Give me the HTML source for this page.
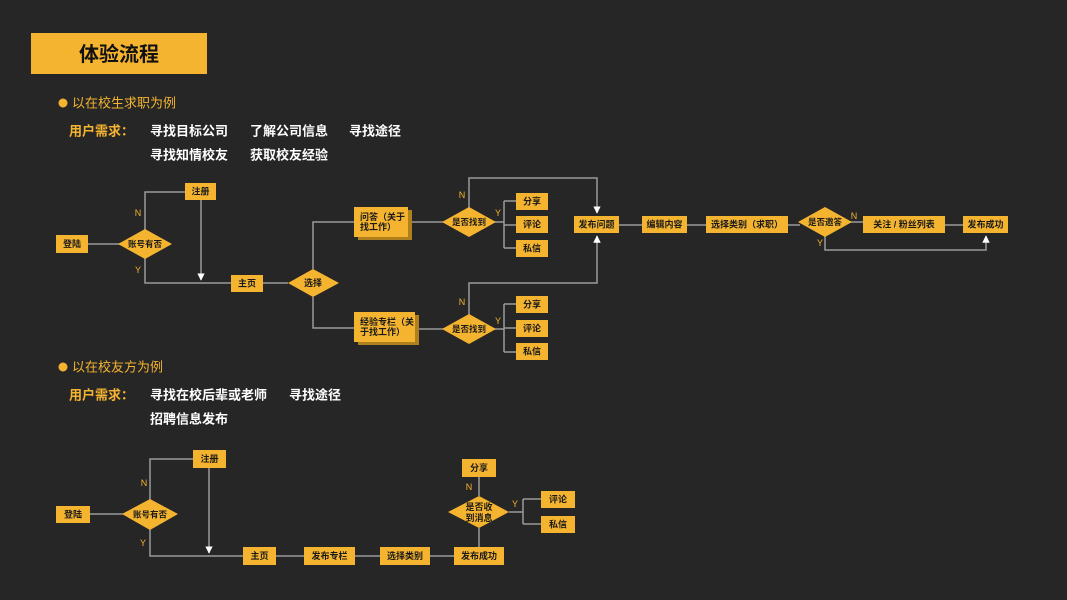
<!DOCTYPE html>
<html><head><meta charset="utf-8"><style>
html,body{margin:0;padding:0;background:#262626;width:1067px;height:600px;overflow:hidden}
svg{display:block}
text{font-family:"Liberation Sans","Noto Sans CJK SC",sans-serif}
.b{fill:#f5b430}
.t{font-size:9px;fill:#1a1a1a;font-weight:bold;text-anchor:middle;dominant-baseline:central}
.d{font-size:8.5px}
.l{stroke:#9a9a9a;stroke-width:1.5;fill:none}
.yn{font-size:9px;fill:#f5b430;text-anchor:middle;dominant-baseline:central}
.w{font-size:13px;fill:#ffffff;font-weight:bold;dominant-baseline:central}
.y{font-size:13px;fill:#f5b430;font-weight:bold;dominant-baseline:central}
</style></head><body>
<svg width="1067" height="600" viewBox="0 0 1067 600" xmlns="http://www.w3.org/2000/svg">
<defs><marker id="a" viewBox="0 0 10 10" refX="9" refY="5" markerWidth="5" markerHeight="7" orient="auto"><path d="M0,0L10,5L0,10z" fill="#fff"/></marker></defs>
<rect x="31" y="33" width="176" height="41" class="b"/>
<text x="119" y="55" style="font-size:20px;font-weight:bold;fill:#111;text-anchor:middle;dominant-baseline:central">体验流程</text>
<circle cx="63" cy="103" r="4.5" class="b"/>
<text x="72" y="103" style="font-size:13px;fill:#f5b430;dominant-baseline:central">以在校生求职为例</text>
<text x="69" y="131" class="y">用户需求：</text>
<text x="150" y="131" class="w">寻找目标公司</text><text x="250" y="131" class="w">了解公司信息</text><text x="349" y="131" class="w">寻找途径</text>
<text x="150" y="155" class="w">寻找知情校友</text><text x="250" y="155" class="w">获取校友经验</text>
<circle cx="63" cy="367" r="4.5" class="b"/>
<text x="72" y="367" style="font-size:13px;fill:#f5b430;dominant-baseline:central">以在校友方为例</text>
<text x="69" y="395" class="y">用户需求：</text>
<text x="150" y="395" class="w">寻找在校后辈或老师</text><text x="289" y="395" class="w">寻找途径</text>
<text x="150" y="419" class="w">招聘信息发布</text>

<path class="l" d="M88,244H120M145,230V192H185M145,258V283H231M263,283H288M313,269V222H355M313,297V328H355M408,222H444M415,329H444"/>
<path class="l" d="M201,200V280" marker-end="url(#a)"/>
<path class="l" d="M469,208V178H597V213" marker-end="url(#a)"/>
<path class="l" d="M469,315V283H597V236" marker-end="url(#a)"/>
<path class="l" d="M494,222H504M504,201V248M504,201H516M504,225H516M504,248H516"/>
<path class="l" d="M494,329H504M504,304V352M504,304H516M504,328H516M504,352H516"/>
<path class="l" d="M619,225H642M687,225H706M788,225H800M850,222H863M945,225H963"/>
<path class="l" d="M825,236V250H986V236" marker-end="url(#a)"/>
<rect x="56" y="235" width="32" height="18" class="b"/><text x="72" y="244" class="t">登陆</text>
<polygon points="118,244 145,229 172,244 145,259" class="b"/><text x="145" y="244" class="t d">账号有否</text>
<rect x="185" y="183" width="31" height="17" class="b"/><text x="200.5" y="191.5" class="t">注册</text>
<rect x="231" y="275" width="32" height="17" class="b"/><text x="247" y="283.5" class="t">主页</text>
<polygon points="288,283 313,269 339,283 313,297" class="b"/><text x="313" y="283" class="t">选择</text>
<rect x="358" y="210" width="54" height="30" fill="#b07f1e"/>
<rect x="354" y="207" width="54" height="30" class="b"/><text x="360" y="217" class="t" style="text-anchor:start">问答（关于</text><text x="360" y="227" class="t" style="text-anchor:start">找工作）</text>
<rect x="358" y="315" width="61" height="30" fill="#b07f1e"/>
<rect x="354" y="312" width="61" height="30" class="b"/><text x="360" y="322" class="t" style="text-anchor:start">经验专栏（关</text><text x="360" y="332" class="t" style="text-anchor:start">于找工作）</text>
<polygon points="442,222 469,207 496,222 469,237" class="b"/><text x="469" y="222" class="t d">是否找到</text>
<polygon points="442,329 469,314 496,329 469,344" class="b"/><text x="469" y="329" class="t d">是否找到</text>
<text x="462" y="195" class="yn">N</text><text x="498" y="213" class="yn">Y</text>
<text x="462" y="302" class="yn">N</text><text x="498" y="321" class="yn">Y</text>
<text x="138" y="213" class="yn">N</text><text x="138" y="270" class="yn">Y</text>
<rect x="516" y="193" width="32" height="17" class="b"/><text x="532" y="201.5" class="t">分享</text>
<rect x="516" y="216" width="32" height="17" class="b"/><text x="532" y="224.5" class="t">评论</text>
<rect x="516" y="240" width="32" height="17" class="b"/><text x="532" y="248.5" class="t">私信</text>
<rect x="516" y="296" width="32" height="17" class="b"/><text x="532" y="304.5" class="t">分享</text>
<rect x="516" y="320" width="32" height="17" class="b"/><text x="532" y="328.5" class="t">评论</text>
<rect x="516" y="343" width="32" height="17" class="b"/><text x="532" y="351.5" class="t">私信</text>
<rect x="574" y="216" width="45" height="17" class="b"/><text x="596.5" y="224.5" class="t">发布问题</text>
<rect x="642" y="216" width="45" height="17" class="b"/><text x="664.5" y="224.5" class="t">编辑内容</text>
<rect x="706" y="216" width="82" height="17" class="b"/><text x="747" y="224.5" class="t">选择类别（求职）</text>
<polygon points="798,222 825,207 852,222 825,237" class="b"/><text x="825" y="222" class="t d">是否邀答</text>
<text x="854" y="216" class="yn">N</text><text x="820" y="243" class="yn">Y</text>
<rect x="863" y="216" width="82" height="17" class="b"/><text x="904" y="224.5" class="t">关注 / 粉丝列表</text>
<rect x="963" y="216" width="45" height="17" class="b"/><text x="985.5" y="224.5" class="t">发布成功</text>

<path class="l" d="M90,514H123M150,500V459H193M150,529V556H243M276,556H304M355,556H380M430,556H454M479,547V528M479,496V477M509,512H523M523,499V524M523,499H541M523,524H541"/>
<path class="l" d="M209,468V553" marker-end="url(#a)"/>
<rect x="56" y="506" width="34" height="17" class="b"/><text x="73" y="514.5" class="t">登陆</text>
<polygon points="122,514 150,499 178,514 150,530" class="b"/><text x="150" y="514.5" class="t d">账号有否</text>
<rect x="193" y="450" width="33" height="18" class="b"/><text x="209.5" y="459" class="t">注册</text>
<text x="144" y="483" class="yn">N</text><text x="143" y="543" class="yn">Y</text>
<rect x="243" y="547" width="33" height="18" class="b"/><text x="259.5" y="556" class="t">主页</text>
<rect x="304" y="547" width="51" height="18" class="b"/><text x="329.5" y="556" class="t">发布专栏</text>
<rect x="380" y="547" width="50" height="18" class="b"/><text x="405" y="556" class="t">选择类别</text>
<rect x="454" y="547" width="50" height="18" class="b"/><text x="479" y="556" class="t">发布成功</text>
<polygon points="448,512 479,496 509,512 479,528" class="b"/><text x="479" y="507" class="t">是否收</text><text x="479" y="518" class="t">到消息</text>
<rect x="462" y="459" width="34" height="18" class="b"/><text x="479" y="468" class="t">分享</text>
<text x="469" y="487" class="yn">N</text><text x="515" y="504" class="yn">Y</text>
<rect x="541" y="491" width="34" height="17" class="b"/><text x="558" y="499.5" class="t">评论</text>
<rect x="541" y="516" width="34" height="17" class="b"/><text x="558" y="524.5" class="t">私信</text>
</svg>
</body></html>
